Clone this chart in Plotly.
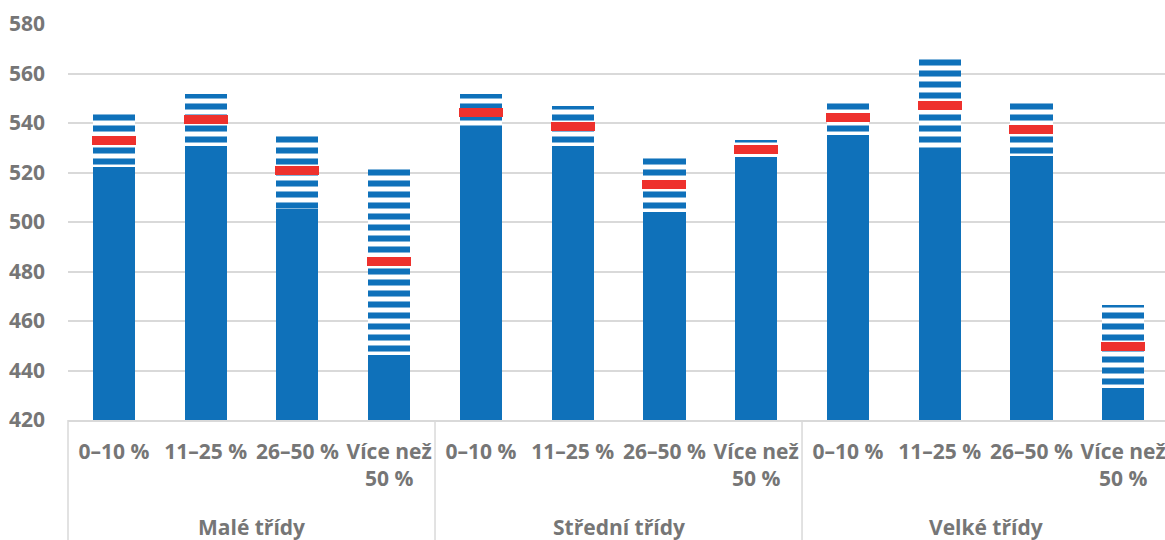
import plotly.graph_objects as go

groups = ["Malé třídy", "Střední třídy", "Velké třídy"]
subcats = ["0–10 %", "11–25 %", "26–50 %", "Více než<br>50 %"]

# lower bound, mean, upper bound (confidence interval) for each of the 12 bars
lower = [522.2, 530.6, 505.1, 446.1, 536.8, 530.6, 504.0, 526.3, 535.3, 528.0, 526.6, 433.0]
mean = [533.0, 541.3, 520.8, 484.2, 544.2, 538.6, 515.2, 529.3, 542.1, 547.0, 537.5, 449.7]
upper = [543.7, 551.8, 535.4, 521.6, 551.8, 546.8, 526.3, 533.3, 548.9, 566.0, 548.9, 466.4]

y_min, y_max, y_step = 420, 580, 20

BLUE = "#0F71BA"
RED = "#EE312D"
GRID = "#D9D9D9"
TXT = "#767676"
FONT = "Open Sans"
FS = 21

n_sub = len(subcats)
xs = list(range(len(groups) * n_sub))
ticktext = [subcats[i % n_sub] for i in xs]

fig = go.Figure()
fig.add_trace(go.Bar(
    x=xs, y=[lo - y_min for lo in lower], base=[y_min] * len(xs),
    width=0.46, marker=dict(color=BLUE, line=dict(width=0)), showlegend=False,
))
fig.add_trace(go.Bar(
    x=xs, y=[u - lo for u, lo in zip(upper, lower)], base=lower,
    width=0.46,
    marker=dict(color=BLUE, line=dict(width=0),
                pattern=dict(shape="-", size=11, solidity=0.55,
                             fgcolor=BLUE, bgcolor="white", fillmode="replace")),
    showlegend=False,
))
mark_h = 3.6
fig.add_trace(go.Bar(
    x=xs, y=[mark_h] * len(xs), base=[m - mark_h / 2 for m in mean],
    width=0.48, marker=dict(color=RED, line=dict(width=0)), showlegend=False,
))

x_lo, x_hi = -0.5, 11.456
L, R, T, B = 68, 0, 24, 120
W, H = 1165, 540
plot_h = H - T - B

def xpaper(v):
    return (v - x_lo) / (x_hi - x_lo)

shapes = []
for g in range(len(groups) + 1):
    xv = g * n_sub - 0.5
    if x_lo <= xv <= x_hi:
        shapes.append(dict(type="line", xref="paper", yref="paper",
                           x0=xpaper(xv), x1=xpaper(xv), y0=0, y1=-B / plot_h,
                           line=dict(color=GRID, width=1.5)))

annotations = []
for g, name in enumerate(groups):
    xc = g * n_sub + (n_sub - 1) / 2
    annotations.append(dict(text=name, x=xc, xref="x", y=-(527 - 420) / plot_h,
                            yref="paper", yanchor="middle", xanchor="center",
                            showarrow=False,
                            font=dict(family=FONT, size=FS, color=TXT, weight="bold")))

fig.update_layout(
    width=W, height=H, margin=dict(l=L, r=R, t=T, b=B, autoexpand=False),
    barmode="overlay", bargap=0,
    plot_bgcolor="white", paper_bgcolor="white",
    shapes=shapes, annotations=annotations,
    xaxis=dict(range=[x_lo, x_hi], tickvals=xs, ticktext=ticktext,
               showgrid=False, zeroline=False, showline=True, linecolor=GRID,
               linewidth=1.5, ticks="", ticklabelstandoff=12,
               ticklabeloverflow="allow", automargin=False,
               tickfont=dict(family=FONT, size=FS, color=TXT, weight="bold")),
    yaxis=dict(range=[y_min, y_max], dtick=y_step, tick0=y_min,
               showgrid=True, gridcolor=GRID, gridwidth=1.5, zeroline=False,
               showline=False, ticks="", ticklabelstandoff=22, automargin=False,
               tickfont=dict(family=FONT, size=FS, color=TXT, weight="bold")),
)

fig.write_html("out.html", config={"displayModeBar": False},
               post_script="document.body.style.margin='0';")
